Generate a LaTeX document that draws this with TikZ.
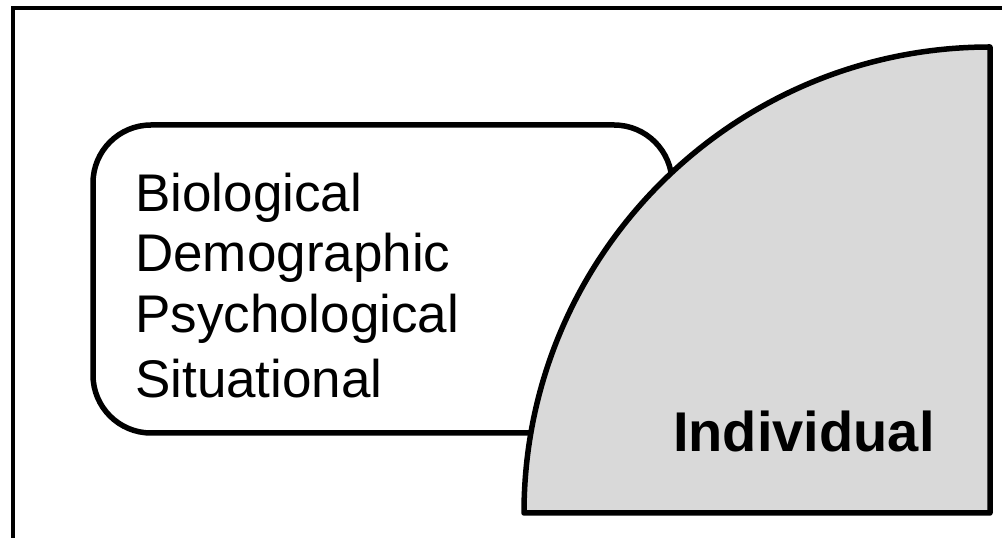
\documentclass[tikz,border=0pt]{standalone}
\usepackage{fontspec}
\setmainfont{Liberation Sans}
\begin{document}
\begin{tikzpicture}[x=1pt,y=1pt,
  outline/.style={line width=5.5pt,line join=round},
  factor/.style={anchor=base west,inner sep=0pt,font=\fontsize{53}{60}\selectfont},
  indiv/.style={anchor=base west,inner sep=0pt,font=\fontsize{56}{64}\selectfont\bfseries}]
\useasboundingbox (0,0) rectangle (1002,538);
\clip (0,0) rectangle (1002,538);
% outer frame
\draw[line width=4pt] (13,-10) -- (13,530) -- (1015,530);
% rounded box of factors
\draw[outline,rounded corners=58pt] (93,105) rectangle (672,413);
\node[factor] (bio) at (135,326) {Biological};
\node[factor] (dem) at (135,266) {Demographic};
\node[factor] (psy) at (135,205) {Psychological};
\node[factor] (sit) at (135,140) {Situational};
% quarter circle
\draw[outline,fill={rgb,255:red,217;green,217;blue,217}] (524,25) arc[start angle=180,end angle=90,radius=466] -- (990,25) -- cycle;
\node[indiv] (ind) at (673,86) {Individual};
\end{tikzpicture}
\end{document}
